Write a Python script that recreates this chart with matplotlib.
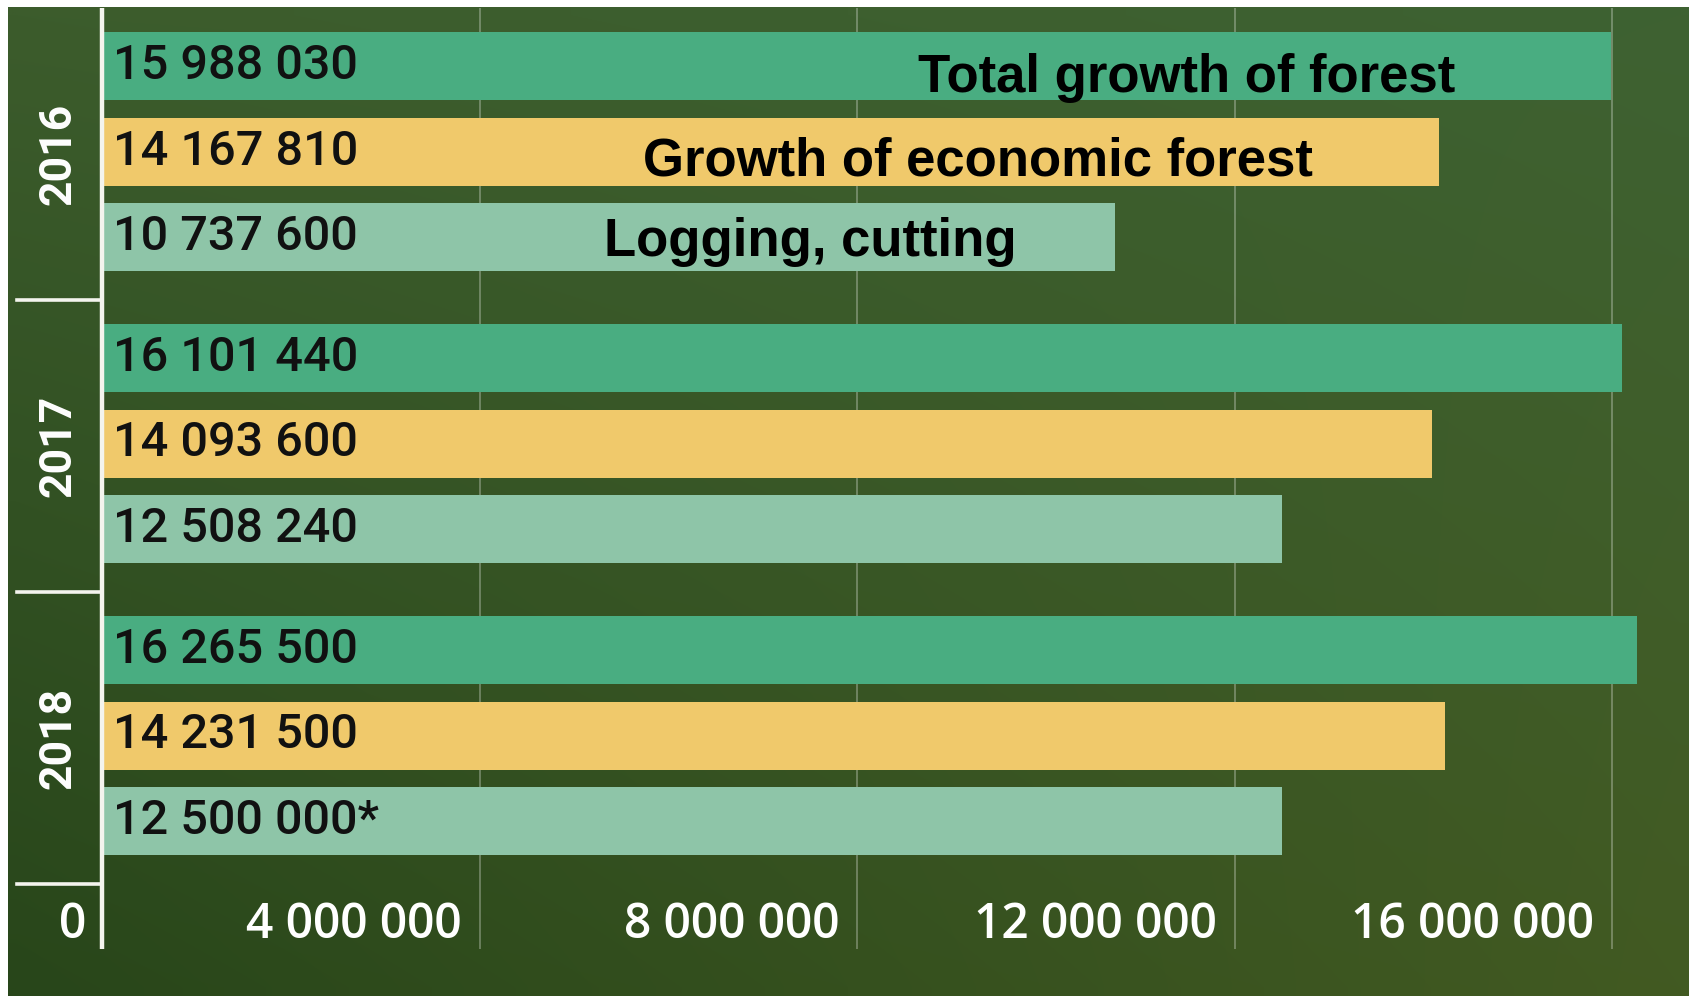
import numpy as np
import matplotlib
matplotlib.use("Agg")
import matplotlib.pyplot as plt
from matplotlib import transforms

# ---- data ----
years = ["2016", "2017", "2018"]
series_names = ["Total growth of forest", "Growth of economic forest", "Logging, cutting"]
total_growth = [15988030, 16101440, 16265500]
economic_growth = [14167810, 14093600, 14231500]
logging_cut = [10737600, 12508240, 12500000]
value_labels = [
    ["15 988 030", "14 167 810", "10 737 600"],
    ["16 101 440", "14 093 600", "12 508 240"],
    ["16 265 500", "14 231 500", "12 500 000*"],
]
xticks = [0, 4000000, 8000000, 12000000, 16000000]
xtick_labels = ["0", "4 000 000", "8 000 000", "12 000 000", "16 000 000"]

colors = ["#49ad81", "#f0c96b", "#8ec5a8"]

W, H = 1691, 999
fig = plt.figure(figsize=(W / 100, H / 100), dpi=100, facecolor="white")

# background panel (gradient)
bg = fig.add_axes([8 / W, 1 - 996 / H, 1681 / W, 989 / H])
ny, nx = 60, 100
tl = np.array([60, 92, 44]) / 255
tr = np.array([62, 98, 50]) / 255
bl = np.array([40, 70, 26]) / 255
br = np.array([66, 90, 34]) / 255
u = np.linspace(0, 1, nx)[None, :, None]
v = np.linspace(0, 1, ny)[:, None, None]
grad = (1 - v) * ((1 - u) * tl + u * tr) + v * ((1 - u) * bl + u * br)
bg.imshow(grad, aspect="auto", interpolation="bilinear", extent=[0, 1, 0, 1])
bg.set_axis_off()

# main axes: left at axis line (x=102 px), top at 8 px, bottom at 949 px
ax_left, ax_right, ax_top, ax_bot = 102, 1688, 8, 949
ax = fig.add_axes([ax_left / W, 1 - ax_bot / H, (ax_right - ax_left) / W, (ax_bot - ax_top) / H])
ax.set_facecolor("none")
px_per_unit = 377.5 / 4000000
ax.set_xlim(0, (ax_right - ax_left) / px_per_unit)
ax.set_ylim(ax_bot - ax_top, 0)
for s in ax.spines.values():
    s.set_visible(False)
ax.set_xticks([])
ax.set_yticks([])

group_step = 292
bar_step = 85.5
first_center = 58
bar_h = 68

series = [total_growth, economic_growth, logging_cut]
for g in range(len(years)):
    for k, vals in enumerate(series):
        yc = first_center + g * group_step + k * bar_step
        ax.barh(yc, vals[g], height=bar_h, color=colors[k], zorder=2)
        ax.text(11 / px_per_unit, yc, value_labels[g][k], ha="left", va="center",
                fontsize=35, family="Roboto", fontweight="medium", color="#111111", zorder=3)

# gridlines
for t in xticks[1:]:
    ax.vlines(t, 0, ax_bot - ax_top, color="white", alpha=0.3, lw=1.3, zorder=1)

# axis line
ax.vlines(0, 0, ax_bot - ax_top, color="#f4f4ee", lw=3.2, zorder=4, clip_on=False)

# year labels and separators (left panel)
ytrans = ax.get_yaxis_transform()
for g, yr in enumerate(years):
    yc = g * group_step + group_step / 2
    ax.text((59 - ax_left) / (ax_right - ax_left), yc, yr, rotation=90, ha="center", va="center",
            fontsize=32, family="Roboto", fontweight="bold", color="white", transform=ytrans)
    ysep = (g + 1) * group_step
    ax.plot([(17 - ax_left) / (ax_right - ax_left), 0], [ysep, ysep], color="#f4f4ee", lw=2.6,
            transform=ytrans, clip_on=False, zorder=4)

# x tick labels (inside, right-aligned left of gridlines)
lab_y = 926 - ax_top
for t, lab in zip(xticks, xtick_labels):
    off = transforms.offset_copy(ax.transData, fig=fig, x=-16 if t == 0 else -18, y=0, units="dots")
    ax.text(t, lab_y, lab, ha="right", va="center", fontsize=34.5, family="Open Sans",
            fontweight="semibold", color="white", transform=off)

# series annotations
ann_x = [(1187 - ax_left) / px_per_unit, (978 - ax_left) / px_per_unit, (810 - ax_left) / px_per_unit]
ann_y = [92 - ax_top, 175 - ax_top, 256 - ax_top]
for name, x, y in zip(series_names, ann_x, ann_y):
    ax.text(x, y, name, ha="center", va="baseline", fontsize=38, family="Liberation Sans",
            fontweight="bold", color="black", zorder=5)

fig.savefig("out.png", dpi=100, facecolor="white")
